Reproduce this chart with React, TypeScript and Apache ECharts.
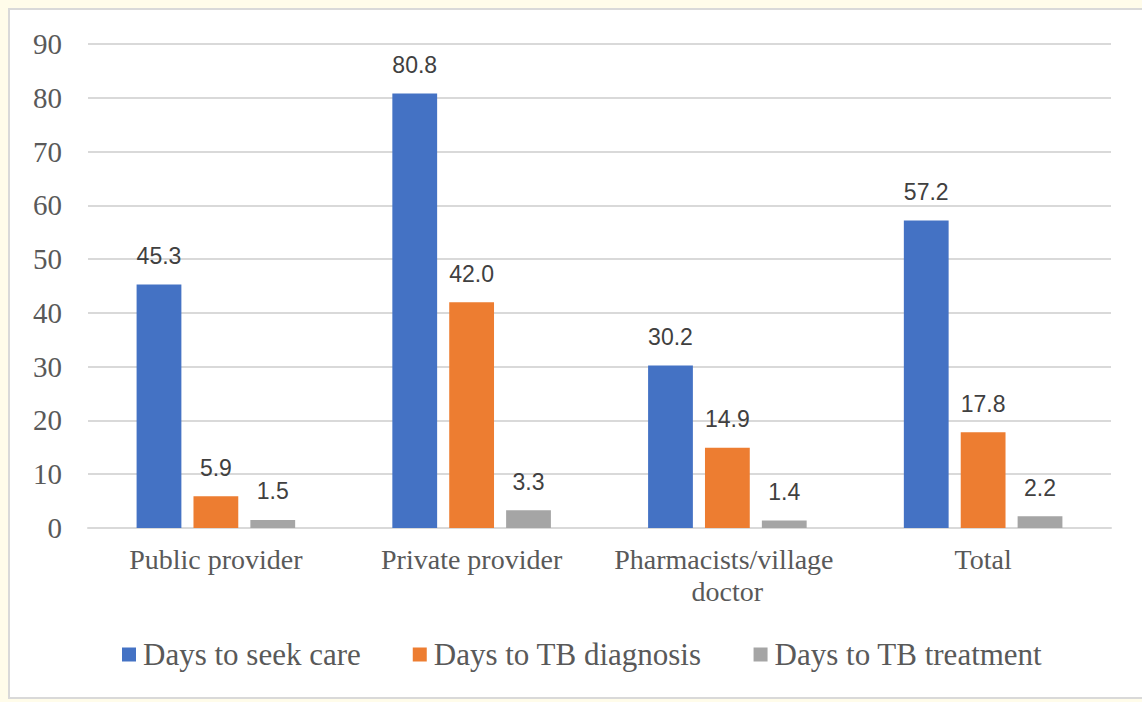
import React, { useEffect, useRef } from "react";
import * as echarts from "echarts";

const categories = ["Public provider", "Private provider", "Pharmacists/village doctor", "Total"];
const seekCare = [45.3, 80.8, 30.2, 57.2];
const tbDiagnosis = [5.9, 42.0, 14.9, 17.8];
const tbTreatment = [1.5, 3.3, 1.4, 2.2];
const seriesNames = ["Days to seek care", "Days to TB diagnosis", "Days to TB treatment"];
const colors = ["#4472C4", "#ED7D31", "#A5A5A5"];

const serif = "'Liberation Serif', 'Times New Roman', serif";
const sans = "'Liberation Sans Narrow', 'Arial Narrow', 'Liberation Sans', sans-serif";

export default function App() {
  const ref = useRef<HTMLDivElement>(null);
  useEffect(() => {
    if (!ref.current) return;
    const chart = echarts.init(ref.current, undefined, { renderer: "svg" });
    const data = [seekCare, tbDiagnosis, tbTreatment];
    chart.setOption({
      animation: false,
      grid: { left: 88, right: 31, top: 44, bottom: 174, containLabel: false },
      legend: {
        left: 117,
        top: 634,
        itemWidth: 14,
        itemHeight: 14,
        itemGap: 52,
        icon: "rect",
        textStyle: { fontFamily: serif, fontSize: 31, color: "#595959", padding: [0, 0, 0, 2] },
        data: seriesNames,
      },
      xAxis: {
        type: "category",
        data: categories,
        axisLine: { lineStyle: { color: "#d9d9d9", width: 2 } },
        axisTick: { show: false },
        axisLabel: {
          fontFamily: serif,
          fontSize: 28,
          color: "#595959",
          margin: 15,
          lineHeight: 32,
          width: 240,
          overflow: "break",
          interval: 0,
        },
      },
      yAxis: {
        type: "value",
        min: 0,
        max: 90,
        interval: 10,
        axisLine: { show: false },
        axisTick: { show: false },
        splitLine: { lineStyle: { color: "#d9d9d9", width: 2 } },
        axisLabel: { fontFamily: serif, fontSize: 29, color: "#595959", margin: 26 },
      },
      series: seriesNames.map((name, i) => ({
        name,
        type: "bar",
        data: data[i],
        barGap: "27%",
        barCategoryGap: "38%",
        itemStyle: { color: colors[i] },
        label: {
          show: true,
          position: "top",
          distance: 17,
          fontFamily: sans,
          fontSize: 23,
          color: "#404040",
          formatter: (p: any) => Number(p.value).toFixed(1),
        },
      })),
    });
    return () => chart.dispose();
  }, []);

  return (
    <div style={{ position: "fixed", left: 0, top: 0, width: 1142, height: 702, background: "#fffcea", overflow: "hidden" }}>
      <div
        style={{
          position: "absolute",
          left: 8,
          top: 8,
          width: 1160,
          height: 687,
          border: "2px solid #d9d9d9",
          background: "#ffffff",
        }}
      />
      <div ref={ref} style={{ position: "absolute", left: 0, top: 0, width: 1142, height: 702 }} />
    </div>
  );
}
